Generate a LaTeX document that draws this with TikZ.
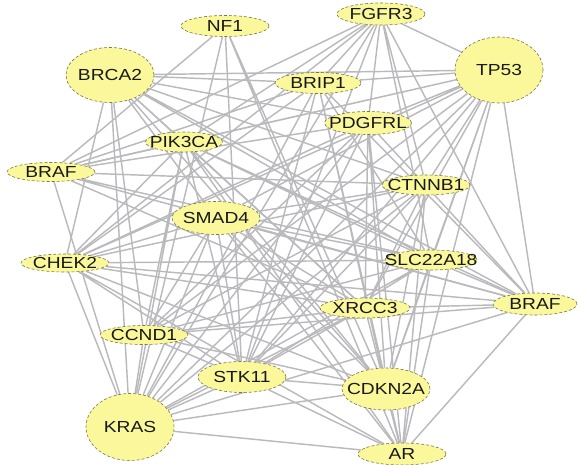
\documentclass[tikz,border=0pt]{standalone}
\usepackage{fontspec}
\setmainfont{Liberation Sans}[FakeStretch=1.2]
\usetikzlibrary{shapes.geometric,backgrounds}
\definecolor{genefill}{RGB}{250,248,155}
\definecolor{geneline}{RGB}{120,118,70}
\definecolor{linkgray}{RGB}{186,186,190}
\newcommand{\gname}[1]{\makebox[0pt]{#1}}

\begin{document}
\begin{tikzpicture}[x=1pt, y=-1pt,
    gene/.style={ellipse, draw=geneline, densely dashed, line width=0.6pt, fill=genefill,
        inner sep=0pt, minimum width=88pt, font=\fontsize{16}{16}\selectfont, text=black!90},
    link/.style={draw=linkgray, line width=1.45pt}]
    \useasboundingbox (0,0) rectangle (578,465);
    \node[gene, minimum height=21pt] (nf) at (225,26) {\gname{NF1}};
    \node[gene, minimum height=22pt] (fg) at (381,14) {\gname{FGFR3}};
    \node[gene, minimum height=55pt] (br) at (110,75) {\gname{BRCA2}};
    \node[gene, minimum height=66pt] (tp) at (499,70) {\gname{TP53}};
    \node[gene, minimum height=21pt, minimum width=86pt] (bp) at (318,83) {\gname{BRIP1}};
    \node[gene, minimum height=20pt, minimum width=77pt] (pk) at (184,142) {\gname{PIK3CA}};
    \node[gene, minimum height=23pt, minimum width=87pt] (pd) at (368,123) {\gname{PDGFRL}};
    \node[gene, minimum height=19pt] (bl) at (51,172) {\gname{BRAF}};
    \node[gene, minimum height=20pt] (ct) at (426,185) {\gname{CTNNB1}};
    \node[gene, minimum height=33pt] (sm) at (216,218) {\gname{SMAD4}};
    \node[gene, minimum height=18pt] (ch) at (65,263) {\gname{CHEK2}};
    \node[gene, minimum height=20pt, minimum width=92pt] (sl) at (431,260) {\gname{SLC22A18}};
    \node[gene, minimum height=20pt, minimum width=90pt] (xr) at (365,308) {\gname{XRCC3}};
    \node[gene, minimum height=22pt, minimum width=84pt] (bf) at (535,304) {\gname{BRAF}};
    \node[gene, minimum height=19pt] (cc) at (144,335) {\gname{CCND1}};
    \node[gene, minimum height=31pt] (st) at (242,377) {\gname{STK11}};
    \node[gene, minimum height=42pt] (cd) at (386,389) {\gname{CDKN2A}};
    \node[gene, minimum height=67pt] (kr) at (130,427) {\gname{KRAS}};
    \node[gene, minimum height=22pt] (ar) at (402,454) {\gname{AR}};

    \begin{scope}[on background layer]
    \draw[link] (nf) -- (bl) (nf) -- (kr) (nf) -- (st) (nf) -- (cd) (nf) -- (ar);
    \draw[link] (fg) -- (bl) (fg) -- (pk) (fg) -- (ch) (fg) -- (kr) (fg) -- (st) (fg) -- (pd)
        (fg) -- (ct) (fg) -- (sl) (fg) -- (bf) (fg) -- (tp) (fg) -- (bp);
    \draw[link] (br) -- (tp) (br) -- (bp) (br) -- (ch) (br) -- (kr) (br) -- (cc) (br) -- (sm)
        (br) -- (pk) (br) -- (xr) (br) -- (ct) (br) -- (sl) (br) -- (bf) (br) -- (cd) (br) -- (pd);
    \draw[link] (tp) -- (bp) (tp) -- (pk) (tp) -- (bl) (tp) -- (ch) (tp) -- (sm) (tp) -- (cc)
        (tp) -- (kr) (tp) -- (st) (tp) -- (xr) (tp) -- (sl) (tp) -- (cd) (tp) -- (ar)
        (tp) -- (bf) (tp) -- (ct) (tp) -- (pd);
    \draw[link] (bp) -- (bl) (bp) -- (ch) (bp) -- (st) (bp) -- (kr) (bp) -- (cd) (bp) -- (ar)
        (bp) -- (sl) (bp) -- (bf);
    \draw[link] (pk) -- (ch) (pk) -- (kr) (pk) -- (cc) (pk) -- (cd) (pk) -- (xr) (pk) -- (sl)
        (pk) -- (bf) (pk) -- (ar) (pk) -- (st) (pk) -- (bl);
    \draw[link] (pd) -- (bl) (pd) -- (ch) (pd) -- (kr) (pd) -- (cc) (pd) -- (st) (pd) -- (cd)
        (pd) -- (ar) (pd) -- (bf) (pd) -- (xr);
    \draw[link] (ct) -- (bl) (ct) -- (ch) (ct) -- (kr) (ct) -- (cc) (ct) -- (st) (ct) -- (cd)
        (ct) -- (ar) (ct) -- (sm) (ct) -- (xr);
    \draw[link] (sm) -- (kr) (sm) -- (sl) (sm) -- (bf) (sm) -- (cd) (sm) -- (ar) (sm) -- (xr)
        (sm) -- (st) (sm) -- (cc) (sm) -- (ch);
    \draw[link] (bl) -- (kr) (bl) -- (sl) (bl) -- (xr) (bl) -- (bf);
    \draw[link] (ch) -- (sl) (ch) -- (xr) (ch) -- (bf) (ch) -- (kr) (ch) -- (cd) (ch) -- (st) (ch) -- (ar);
    \draw[link] (sl) -- (cc) (sl) -- (kr) (sl) -- (st) (sl) -- (bf) (sl) -- (cd) (sl) -- (ar);
    \draw[link] (xr) -- (cc) (xr) -- (kr) (xr) -- (st) (xr) -- (bf) (xr) -- (ar);
    \draw[link] (cc) -- (bf) (cc) -- (kr) (cc) -- (st) (cc) -- (cd);
    \draw[link] (st) -- (kr) (st) -- (cd) (st) -- (ar);
    \draw[link] (cd) -- (kr) (cd) -- (ar);
    \draw[link] (kr) -- (bf) (kr) -- (ar);
    \draw[link] (bf) -- (ar);
    \end{scope}
\end{tikzpicture}
\end{document}
